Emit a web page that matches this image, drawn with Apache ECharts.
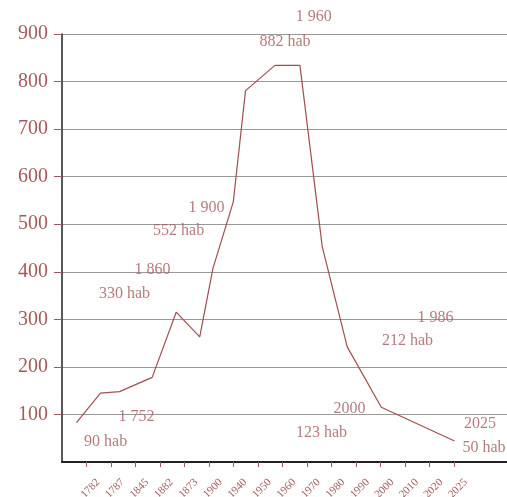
<!DOCTYPE html>
<html>
<head>
<meta charset="utf-8">
<script src="https://cdn.jsdelivr.net/npm/echarts@6/dist/echarts.min.js"></script>
<style>html,body{margin:0;padding:0;background:#fff}#c{width:507px;height:497px}</style>
</head>
<body>
<div id="c"></div>
<script>
// Category tick labels along the x axis
var xLabels = ['1782','1787','1845','1882','1873','1900','1940','1950','1960','1970','1980','1990','2000','2010','2020','2025'];
// Population curve: position along the tick index scale, and inhabitants
var lineX = [-0.41, 0.57, 1.35, 2.68, 3.66, 4.62, 5.16, 5.99, 6.49, 7.69, 8.71, 9.62, 10.64, 12.03, 15.02];
var lineY = [83, 145, 148, 178, 315, 263, 407, 547, 781, 834, 834, 453, 242, 115, 44];
// Y axis ticks
var yTicks = [100, 200, 300, 400, 500, 600, 700, 800, 900];
// Annotations (year and population)
var annoYears = ['1 960', '1 900', '1 860', '1 752', '1 986', '2000', '2025'];
var annoPops = [882, 552, 330, 90, 212, 123, 50];
// Where each annotation sits (x index, y value) – layout only
var yearPos = [[9.27, 936], [4.90, 534], [2.69, 404], [2.04, 95], [14.24, 303], [10.73, 111], [16.06, 80]];
var popPos = [[8.10, 883], [3.76, 486], [1.55, 353], [0.78, 42], [13.10, 254], [9.59, 61], [16.22, 29]];

var brown = '#a35a5a';
var lineColor = '#a04f4f';
var font = "'Liberation Serif', 'DejaVu Serif', serif";

var chart = echarts.init(document.getElementById('c'), null, {renderer: 'canvas'});

var tickIdx = xLabels.map(function (_, i) { return i; });

function annoSeries(pos, texts) {
  return {
    type: 'scatter',
    symbolSize: 0,
    clip: false,
    silent: true,
    data: pos.map(function (p, i) { return {value: [p[0], p[1]], name: texts[i]}; }),
    label: {
      show: true,
      position: 'inside',
      formatter: function (p) { return p.name; },
      color: brown,
      fontFamily: font,
      fontSize: 16
    }
  };
}

chart.setOption({
  animation: false,
  backgroundColor: '#fff',
  grid: {left: 62, right: 0, top: 34, bottom: 35, containLabel: false, outerBoundsMode: 'none'},
  xAxis: {
    type: 'value',
    min: -1,
    max: 17.16,
    interval: 1,
    splitLine: {show: false},
    axisLine: {show: true, onZero: false, lineStyle: {color: '#222', width: 2}},
    axisTick: {show: true, customValues: tickIdx, length: 5, lineStyle: {color: brown, width: 1}},
    axisLabel: {
      show: true,
      customValues: tickIdx,
      rotate: 45,
      margin: 7,
      align: 'right',
      verticalAlign: 'top',
      padding: [11, 0, 0, 0],
      color: brown,
      fontFamily: font,
      fontSize: 11,
      formatter: function (v) { return xLabels[Math.round(v)] || ''; }
    }
  },
  yAxis: {
    type: 'value',
    min: 0,
    max: 900,
    interval: 100,
    axisLine: {show: true, onZero: false, lineStyle: {color: '#222', width: 1.5}},
    axisTick: {show: true, customValues: yTicks, length: 8, lineStyle: {color: brown, width: 1}},
    splitLine: {show: true, lineStyle: {color: '#999', width: 1}},
    axisLabel: {
      show: true,
      customValues: yTicks,
      margin: 14,
      color: brown,
      fontFamily: font,
      fontSize: 20,
      formatter: function (v) { return String(v); }
    }
  },
  series: [
    {
      type: 'line',
      data: lineX.map(function (x, i) { return [x, lineY[i]]; }),
      symbol: 'none',
      clip: false,
      lineStyle: {color: lineColor, width: 1.2},
      z: 5
    },
    annoSeries(yearPos, annoYears),
    annoSeries(popPos, annoPops.map(function (p) { return p + ' hab'; }))
  ]
});
</script>
</body>
</html>
